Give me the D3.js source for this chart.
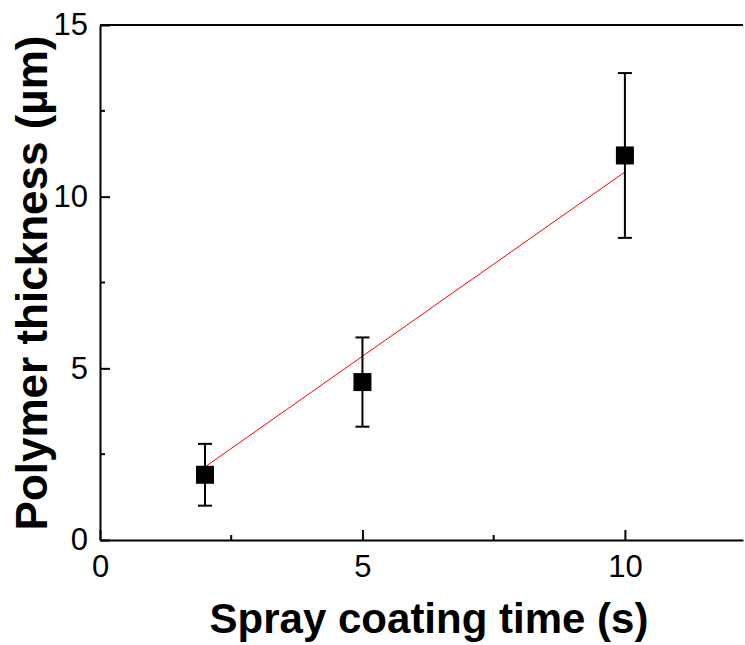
<!DOCTYPE html>
<html>
<head>
<meta charset="utf-8">
<script src="https://cdn.jsdelivr.net/npm/d3@7"></script>
<style>
  body { margin: 0; background: #fff; }
  svg { display: block; font-family: "Liberation Sans", Arial, sans-serif; }
</style>
</head>
<body>
<div id="chart"></div>
<script>
const WIDTH = 745;
const HEIGHT = 645;
const MARGINS = { left: 100, right: 2, top: 25, bottom: 105 };

// data
const TIMES = [2, 5, 10];
const THICKNESS = [1.9, 4.6, 11.2];
const ERRORS = [0.9, 1.3, 2.4];
const FIT_X = [2, 10];
const FIT_Y = [2.13, 10.72];
const X_TICKS = [0, 5, 10];
const Y_TICKS = [0, 5, 10, 15];
const X_MINOR = [2.5, 7.5];
const Y_MINOR = [2.5, 7.5, 12.5];

const points = TIMES.map((t, i) => ({ x: t, y: THICKNESS[i], err: ERRORS[i] }));

const svg = d3.select("#chart").append("svg")
  .attr("width", WIDTH)
  .attr("height", HEIGHT);

const X_SCALE = d3.scaleLinear().domain([0, 12.25]).range([MARGINS.left, WIDTH - MARGINS.right]);
const Y_SCALE = d3.scaleLinear().domain([0, 15]).range([HEIGHT - MARGINS.bottom, MARGINS.top]);

// axes, ticks pointing inward
const xAxis = svg.append("g")
  .attr("transform", `translate(0,${Y_SCALE(0)})`)
  .call(d3.axisBottom(X_SCALE).tickValues(X_TICKS).tickSizeInner(-10).tickSizeOuter(0).tickPadding(15));
const yAxis = svg.append("g")
  .attr("transform", `translate(${X_SCALE(0)},0)`)
  .call(d3.axisLeft(Y_SCALE).tickValues(Y_TICKS).tickSizeInner(-10).tickSizeOuter(0).tickPadding(12));

[xAxis, yAxis].forEach((ax) => {
  ax.select(".domain").attr("stroke", "#000").attr("stroke-width", 2);
  ax.selectAll(".tick line").attr("stroke", "#000").attr("stroke-width", 2);
  ax.selectAll(".tick text").attr("font-size", "31px").attr("fill", "#000")
    .attr("font-family", "'Liberation Sans', Arial, sans-serif");
});

// minor ticks
svg.append("g").selectAll("line").data(X_MINOR).enter().append("line")
  .attr("x1", (d) => X_SCALE(d)).attr("x2", (d) => X_SCALE(d))
  .attr("y1", Y_SCALE(0)).attr("y2", Y_SCALE(0) - 5)
  .attr("stroke", "#000").attr("stroke-width", 2);
svg.append("g").selectAll("line").data(Y_MINOR).enter().append("line")
  .attr("x1", X_SCALE(0)).attr("x2", X_SCALE(0) + 5)
  .attr("y1", (d) => Y_SCALE(d)).attr("y2", (d) => Y_SCALE(d))
  .attr("stroke", "#000").attr("stroke-width", 2);

// top frame line
svg.append("line")
  .attr("x1", X_SCALE(0)).attr("x2", X_SCALE(12.25))
  .attr("y1", Y_SCALE(15)).attr("y2", Y_SCALE(15))
  .attr("stroke", "#000").attr("stroke-width", 2);

// fit line
svg.append("line")
  .attr("x1", X_SCALE(FIT_X[0])).attr("y1", Y_SCALE(FIT_Y[0]))
  .attr("x2", X_SCALE(FIT_X[1])).attr("y2", Y_SCALE(FIT_Y[1]))
  .attr("stroke", "#ff0000").attr("stroke-width", 1);

// error bars
const eb = svg.append("g").selectAll("g").data(points).enter().append("g");
eb.append("line")
  .attr("x1", (d) => X_SCALE(d.x)).attr("x2", (d) => X_SCALE(d.x))
  .attr("y1", (d) => Y_SCALE(d.y - d.err)).attr("y2", (d) => Y_SCALE(d.y + d.err))
  .attr("stroke", "#000").attr("stroke-width", 2);
[-1, 1].forEach((s) => {
  eb.append("line")
    .attr("x1", (d) => X_SCALE(d.x) - 7).attr("x2", (d) => X_SCALE(d.x) + 7)
    .attr("y1", (d) => Y_SCALE(d.y + s * d.err)).attr("y2", (d) => Y_SCALE(d.y + s * d.err))
    .attr("stroke", "#000").attr("stroke-width", 2);
});

// square markers
svg.append("g").selectAll("rect").data(points).enter().append("rect")
  .attr("x", (d) => X_SCALE(d.x) - 9)
  .attr("y", (d) => Y_SCALE(d.y) - 9)
  .attr("width", 18).attr("height", 18)
  .attr("fill", "#000");

// axis titles
svg.append("text")
  .attr("x", 429).attr("y", 633)
  .attr("text-anchor", "middle")
  .attr("font-size", "42px").attr("font-weight", "bold")
  .text("Spray coating time (s)");

svg.append("text")
  .attr("transform", `translate(47,${283}) rotate(-90)`)
  .attr("text-anchor", "middle")
  .attr("font-size", "44px").attr("font-weight", "bold")
  .text("Polymer thickness (µm)");
</script>
</body>
</html>
